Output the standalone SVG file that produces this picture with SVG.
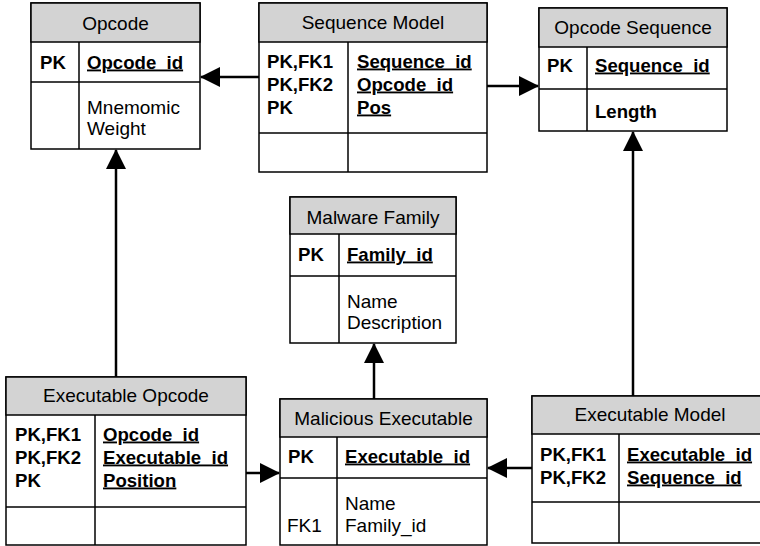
<svg xmlns="http://www.w3.org/2000/svg" width="760" height="546" viewBox="0 0 760 546">
<defs>
<style>
.box{fill:#fff;stroke:#000;stroke-width:1.5}
.hdr{fill:#d3d3d3;stroke:#000;stroke-width:1.5}
.ln{stroke:#000;stroke-width:1.5}
.t{font-family:"Liberation Sans",Arial,sans-serif;font-size:19px;fill:#000}
.title{font-family:"Liberation Sans",Arial,sans-serif;font-size:19px;fill:#000;text-anchor:middle}
.b{font-weight:bold;font-size:18.6px}
.u{text-decoration:underline}
.conn{stroke:#000;stroke-width:2.5;fill:none;marker-end:url(#arr)}
</style>
<marker id="arr" markerUnits="userSpaceOnUse" markerWidth="20" markerHeight="20" refX="19" refY="10" orient="auto" viewBox="0 0 20 20">
<path d="M0,0 L20,10 L0,20 z" fill="#000"/>
</marker>
</defs>
<rect width="760" height="546" fill="#fff"/>

<g id="connectors">
<line class="conn" x1="259" y1="77" x2="201" y2="77"/>
<line class="conn" x1="487" y1="86" x2="538" y2="86"/>
<line class="conn" x1="116" y1="377" x2="116" y2="150"/>
<line class="conn" x1="246" y1="473" x2="279" y2="473"/>
<line class="conn" x1="374" y1="399" x2="374" y2="344"/>
<line class="conn" x1="532" y1="468" x2="488" y2="468"/>
<line class="conn" x1="633" y1="396" x2="633" y2="132"/>
</g>

<g id="opcode">
<rect class="box" x="31" y="3" width="169" height="146"/>
<rect class="hdr" x="31" y="3" width="169" height="39"/>
<line class="ln" x1="79" y1="42" x2="79" y2="149"/>
<line class="ln" x1="31" y1="82" x2="200" y2="82"/>
<text class="title" x="115.5" y="29.5">Opcode</text>
<text class="t b" x="40" y="68.5">PK</text>
<text class="t b u" x="87" y="68.5">Opcode_id</text>
<text class="t" x="87" y="113.5">Mnemomic</text>
<text class="t" x="87" y="135">Weight</text>
</g>

<g id="sequence-model">
<rect class="box" x="259" y="3" width="228" height="169"/>
<rect class="hdr" x="259" y="3" width="228" height="39"/>
<line class="ln" x1="348" y1="42" x2="348" y2="172"/>
<line class="ln" x1="259" y1="133" x2="487" y2="133"/>
<text class="title" x="373" y="29">Sequence Model</text>
<text class="t b" x="267" y="67.5">PK,FK1</text>
<text class="t b" x="267" y="90.5">PK,FK2</text>
<text class="t b" x="267" y="113.5">PK</text>
<text class="t b u" x="357" y="67.5">Sequence_id</text>
<text class="t b u" x="357" y="90.5">Opcode_id</text>
<text class="t b u" x="357" y="113.5">Pos</text>
</g>

<g id="opcode-sequence">
<rect class="box" x="539" y="8" width="188" height="123"/>
<rect class="hdr" x="539" y="8" width="188" height="39"/>
<line class="ln" x1="587" y1="47" x2="587" y2="131"/>
<line class="ln" x1="539" y1="89" x2="727" y2="89"/>
<text class="title" x="633" y="33.5">Opcode Sequence</text>
<text class="t b" x="547" y="71.5">PK</text>
<text class="t b u" x="595" y="71.5">Sequence_id</text>
<text class="t b" x="595" y="117.5">Length</text>
</g>

<g id="malware-family">
<rect class="box" x="290" y="197" width="166" height="146"/>
<rect class="hdr" x="290" y="197" width="166" height="37"/>
<line class="ln" x1="339" y1="234" x2="339" y2="343"/>
<line class="ln" x1="290" y1="276" x2="456" y2="276"/>
<text class="title" x="373" y="223.5">Malware Family</text>
<text class="t b" x="298" y="260.5">PK</text>
<text class="t b u" x="347" y="260.5">Family_id</text>
<text class="t" x="347" y="307.5">Name</text>
<text class="t" x="347" y="329">Description</text>
</g>

<g id="executable-opcode">
<rect class="box" x="6" y="377" width="240" height="168"/>
<rect class="hdr" x="6" y="377" width="240" height="38"/>
<line class="ln" x1="95" y1="415" x2="95" y2="545"/>
<line class="ln" x1="6" y1="507" x2="246" y2="507"/>
<text class="title" x="126" y="401.5">Executable Opcode</text>
<text class="t b" x="15" y="440.5">PK,FK1</text>
<text class="t b" x="15" y="463.5">PK,FK2</text>
<text class="t b" x="15" y="486.5">PK</text>
<text class="t b u" x="103" y="440.5">Opcode_id</text>
<text class="t b u" x="103" y="463.5">Executable_id</text>
<text class="t b u" x="103" y="486.5">Position</text>
</g>

<g id="malicious-executable">
<rect class="box" x="280" y="399" width="207" height="146"/>
<rect class="hdr" x="280" y="399" width="207" height="38"/>
<line class="ln" x1="337" y1="437" x2="337" y2="545"/>
<line class="ln" x1="280" y1="478" x2="487" y2="478"/>
<text class="title" x="383.5" y="424.5">Malicious Executable</text>
<text class="t b" x="288" y="462.5">PK</text>
<text class="t b u" x="345" y="462.5">Executable_id</text>
<text class="t" x="345" y="509.5">Name</text>
<text class="t" x="345" y="531.5">Family_id</text>
<text class="t" x="287" y="531.5">FK1</text>
</g>

<g id="executable-model">
<rect class="box" x="532" y="396" width="236" height="147"/>
<rect class="hdr" x="532" y="396" width="236" height="38"/>
<line class="ln" x1="619" y1="434" x2="619" y2="543"/>
<line class="ln" x1="532" y1="502" x2="768" y2="502"/>
<text class="title" x="650" y="420.5">Executable Model</text>
<text class="t b" x="540" y="460.5">PK,FK1</text>
<text class="t b" x="540" y="483.5">PK,FK2</text>
<text class="t b u" x="627" y="460.5">Executable_id</text>
<text class="t b u" x="627" y="483.5">Sequence_id</text>
</g>
</svg>
